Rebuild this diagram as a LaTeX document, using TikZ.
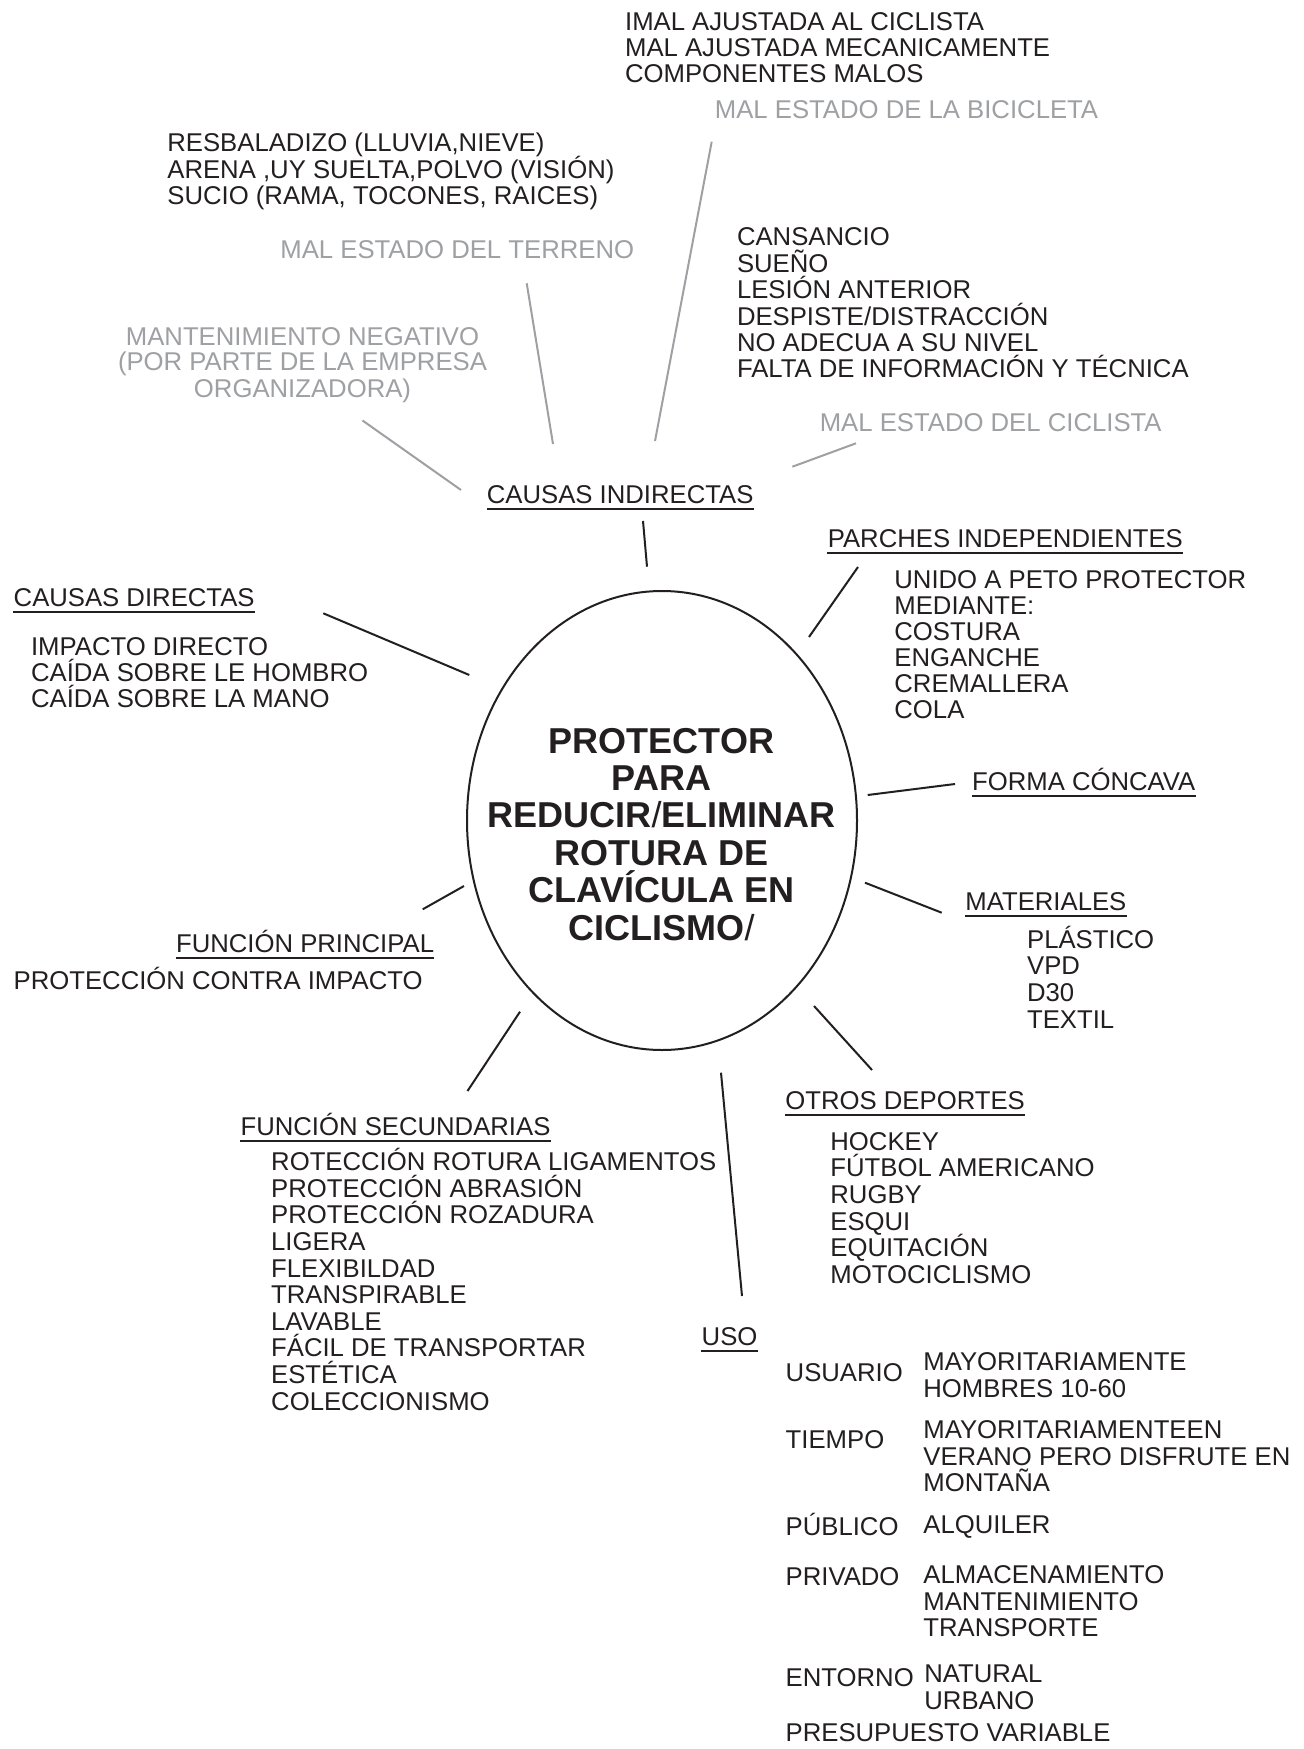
\documentclass[tikz,border=0pt]{standalone}
\usepackage{fontspec}
\setmainfont{Liberation Sans}
\usetikzlibrary{shapes.geometric}
\definecolor{ink}{RGB}{35,31,32}
\definecolor{gtxt}{RGB}{158,160,163}
\newcommand\linesat[6]{%
  \foreach \ltext [count=\lidx from 0] in {#6}{%
    \node[#2] (#1\lidx) at ({#3},{#4+#5*\lidx}) {\ltext};}}
\newcommand\hdnode[4]{%
  \node[txt] (#1) at (#2,#3) {#4};
  \draw[uline] ([yshift=-2.8pt]#1.base west) -- ([yshift=-2.8pt]#1.base east);}
\begin{document}
\begin{tikzpicture}[x=0.5pt,y=-0.5pt,
  txt/.style={inner sep=0pt,anchor=base west,text=ink,font=\fontsize{12.85pt}{13.25pt}\selectfont},
  gtx/.style={txt,text=gtxt},
  gtxc/.style={gtx,anchor=base},
  ttl/.style={inner sep=0pt,anchor=base,text=ink,font=\fontsize{18pt}{18.7pt}\selectfont\bfseries},
  uline/.style={draw=ink,line width=0.95pt},
  conn/.style={draw=ink,line width=1pt},
  gconn/.style={draw=gtxt,line width=1pt}]
\useasboundingbox (0,0) rectangle (1304,1749);
\fill[white] (0,0) rectangle (1304,1749);

% central ellipse
\node[draw=ink,ellipse,line width=1pt,minimum width=195pt,minimum height=229.5pt,inner sep=0pt] (core) at (662,820.5) {};
\node[ttl] (t1) at (661.5,753) {PROTECTOR};
\node[ttl] (t2) at (661.5,790.4) {PARA};
\node[ttl] (t3) at (661.5,827.8) {REDUCIR{\mdseries/}ELIMINAR};
\node[ttl] (t4) at (661.5,865.2) {ROTURA DE};
\node[ttl] (t5) at (661.5,902.6) {CLAVÍCULA EN};
\node[ttl] (t6) at (661.5,940) {CICLISMO{\mdseries/}};

% top: bicicleta
\linesat{bic}{txt}{624.7}{30.5}{26}{{IMAL AJUSTADA AL CICLISTA},{MAL AJUSTADA MECANICAMENTE},{COMPONENTES MALOS}}
\node[gtx] (gbici) at (714.5,118.3) {MAL ESTADO DE LA BICICLETA};

% terreno
\linesat{ter}{txt}{167}{152}{26.5}{{RESBALADIZO (LLUVIA,NIEVE)},{ARENA ,UY SUELTA,POLVO (VISIÓN)},{SUCIO (RAMA, TOCONES, RAICES)}}
\node[gtx] (gterr) at (280,258.3) {MAL ESTADO DEL TERRENO};

% mantenimiento
\linesat{man}{gtxc}{302.5}{345}{26}{{MANTENIMIENTO NEGATIVO},{(POR PARTE DE LA EMPRESA},{ORGANIZADORA)}}

% ciclista
\linesat{cic}{txt}{736.6}{246}{26.4}{{CANSANCIO},{SUEÑO},{LESIÓN ANTERIOR},{DESPISTE/DISTRACCIÓN},{NO ADECUA A SU NIVEL},{FALTA DE INFORMACIÓN Y TÉCNICA}}
\node[gtx] (gcicl) at (819.4,431.7) {MAL ESTADO DEL CICLISTA};

% causas indirectas
\hdnode{hci}{486.5}{503.3}{CAUSAS INDIRECTAS}

% parches
\hdnode{hpar}{827.4}{547.3}{PARCHES INDEPENDIENTES}
\linesat{par}{txt}{894}{588.3}{26}{{UNIDO A PETO PROTECTOR},{MEDIANTE:},{COSTURA},{ENGANCHE},{CREMALLERA},{COLA}}

% causas directas
\hdnode{hcd}{13.3}{606}{CAUSAS DIRECTAS}
\linesat{dir}{txt}{30.7}{655}{26.2}{{IMPACTO DIRECTO},{CAÍDA SOBRE LE HOMBRO},{CAÍDA SOBRE LA MANO}}

% forma concava
\hdnode{hfc}{971.7}{790}{FORMA CÓNCAVA}

% materiales
\hdnode{hmat}{965}{910}{MATERIALES}
\linesat{mat}{txt}{1026.7}{948.3}{26.67}{{PLÁSTICO},{VPD},{D30},{TEXTIL}}

% funcion principal
\hdnode{hfp}{175.7}{952.7}{FUNCIÓN PRINCIPAL}
\node[txt] (fp0) at (13.3,989) {PROTECCIÓN CONTRA IMPACTO};

% otros deportes
\hdnode{hod}{785}{1109.3}{OTROS DEPORTES}
\linesat{dep}{txt}{830}{1150}{26.67}{{HOCKEY},{FÚTBOL AMERICANO},{RUGBY},{ESQUI},{EQUITACIÓN},{MOTOCICLISMO}}

% funciones secundarias
\hdnode{hfs}{240.2}{1135}{FUNCIÓN SECUNDARIAS}
\linesat{sec}{txt}{270.8}{1170.7}{26.6}{{ROTECCIÓN ROTURA LIGAMENTOS},{PROTECCIÓN ABRASIÓN},{PROTECCIÓN ROZADURA},{LIGERA},{FLEXIBILDAD},{TRANSPIRABLE},{LAVABLE},{FÁCIL DE TRANSPORTAR},{ESTÉTICA},{COLECCIONISMO}}

% uso
\hdnode{huso}{701.3}{1345}{USO}
\node[txt] (u1) at (785.3,1381.7) {USUARIO};
\linesat{u1v}{txt}{923}{1370}{27.7}{{MAYORITARIAMENTE},{HOMBRES 10-60}}
\node[txt] (u2) at (785.3,1448.3) {TIEMPO};
\linesat{u2v}{txt}{923}{1438.3}{26.7}{{MAYORITARIAMENTEEN},{VERANO PERO DISFRUTE EN},{MONTAÑA}}
\node[txt] (u3) at (785.3,1535) {PÚBLICO};
\node[txt] (u3v) at (923,1533.3) {ALQUILER};
\node[txt] (u4) at (785.3,1585) {PRIVADO};
\linesat{u4v}{txt}{923}{1583.3}{26.7}{{ALMACENAMIENTO},{MANTENIMIENTO},{TRANSPORTE}}
\node[txt] (u5) at (785.3,1686.7) {ENTORNO};
\linesat{u5v}{txt}{924}{1682.7}{26.6}{{NATURAL},{URBANO}}
\node[txt] (u6) at (785.3,1741.7) {PRESUPUESTO VARIABLE};

% connector end points
\coordinate (a1) at (643,521);     \coordinate (b1) at (647,566.7);
\coordinate (a2) at (858,567);     \coordinate (b2) at (809,637);
\coordinate (a3) at (323.3,613.3); \coordinate (b3) at (469.3,675);
\coordinate (a4) at (867.7,795);   \coordinate (b4) at (955,784);
\coordinate (a5) at (865,882.7);   \coordinate (b5) at (941.7,912.7);
\coordinate (a6) at (464,886);     \coordinate (b6) at (422.7,909.3);
\coordinate (a7) at (520,1011.7);  \coordinate (b7) at (467.5,1091);
\coordinate (a8) at (814,1006);    \coordinate (b8) at (872,1070);
\coordinate (a9) at (721,1072.7);  \coordinate (b9) at (742,1296);
\coordinate (g1) at (362.5,420.5); \coordinate (h1) at (461,490);
\coordinate (g2) at (526.7,283.3); \coordinate (h2) at (553,444);
\coordinate (g3) at (711.7,141.7); \coordinate (h3) at (655,441);
\coordinate (g4) at (856,443.3);   \coordinate (h4) at (792.4,466.7);

\foreach \k in {1,...,9} {\draw[conn] (a\k) -- (b\k);}
\foreach \k in {1,...,4} {\draw[gconn] (g\k) -- (h\k);}
\end{tikzpicture}
\end{document}
